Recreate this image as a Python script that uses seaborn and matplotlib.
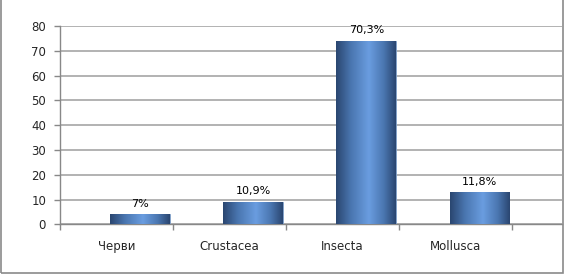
import numpy as np
import pandas as pd
import matplotlib
matplotlib.use("Agg")
import matplotlib.pyplot as plt
from matplotlib.colors import LinearSegmentedColormap
from matplotlib.patches import Rectangle
import seaborn as sns

categories = ["Черви", "Crustacea", "Insecta", "Mollusca"]
values = [4, 9, 74, 13]
labels = ["7%", "10,9%", "70,3%", "11,8%"]
yticks = [0, 10, 20, 30, 40, 50, 60, 70, 80]

sns.set_theme(style="white")
plt.rcParams["font.family"] = ["DejaVu Sans"]

df = pd.DataFrame({"cat": categories, "val": values})

fig = plt.figure(figsize=(5.65, 2.75), dpi=100)
ax = fig.add_axes([60/565, 1-224.3/275, (562-60)/565, (224.3-26)/275])

sns.barplot(data=df, x="cat", y="val", order=categories, width=0.53,
            color="#4f7fbf", ax=ax, zorder=3)

cmap = LinearSegmentedColormap.from_list(
    "bar", [(0.0, "#2a4670"), (0.25, "#4a76b0"), (0.55, "#6a9de0"),
            (0.8, "#4a76b0"), (1.0, "#2a4670")])
grad = np.linspace(0, 1, 256).reshape(1, -1)
for p in ax.patches:
    p.set_x(p.get_x() + 0.21)
    p.set_edgecolor("#7f9fc8")
    p.set_linewidth(0.6)
    x0, w, h = p.get_x(), p.get_width(), p.get_height()
    im = ax.imshow(grad, cmap=cmap, aspect="auto", extent=[x0, x0 + w, 0, h],
                   zorder=3.5)
    im.set_clip_path(p)

for p, lab in zip(ax.patches, labels):
    ax.annotate(lab, (p.get_x() + p.get_width() / 2, p.get_height()),
                xytext=(0, 4), textcoords="offset points", ha="center",
                va="bottom", fontsize=8, color="#000000", zorder=5)

ax.set_xlim(-0.5, 3.94)
ax.set_ylim(0, 80)
ax.set_yticks(yticks)
ax.set_yticklabels([str(t) for t in yticks], fontsize=8.5)
ax.set_xticks(range(len(categories)))
ax.set_xticklabels(categories, fontsize=8.5)
ax.set_xticks(np.arange(-0.5, 4.0, 1.0), minor=True)
ax.tick_params(axis="x", which="major", length=0, pad=11, bottom=True)
ax.tick_params(axis="x", which="minor", length=4, color="#888888", width=1,
               direction="out", bottom=True)
ax.tick_params(axis="y", which="major", length=4, color="#888888", width=1,
               direction="out", pad=6, left=True)
ax.set_xlabel("")
ax.set_ylabel("")

ax.yaxis.grid(True, color="#a6a6a6", linewidth=1.2, zorder=0)
ax.set_axisbelow(True)
for s in ["top", "right"]:
    ax.spines[s].set_visible(False)
ax.spines["left"].set_color("#888888")
ax.spines["bottom"].set_color("#888888")
ax.spines["left"].set_linewidth(1)
ax.spines["bottom"].set_linewidth(1)

fig.patches.append(Rectangle((1/565, 2/275), 562/565, 1.2, transform=fig.transFigure,
                             fill=False, edgecolor="#8a8a8a", linewidth=1.2))

fig.savefig("out.png", dpi=100)
